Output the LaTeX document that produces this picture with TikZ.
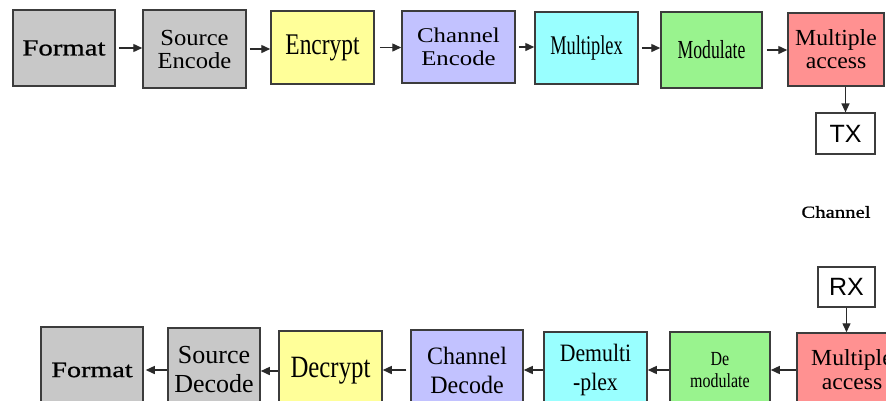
\documentclass[tikz,border=0pt]{standalone}
\usepackage{fontspec}
\setmainfont{Liberation Serif}
\newfontfamily\fntSans{Liberation Sans}
\newfontfamily\fsA[FakeStretch=1.25,FakeBold=0.9]{Liberation Serif}
\newfontfamily\fsB[FakeStretch=1.07]{Liberation Serif}
\newfontfamily\fsC[FakeStretch=0.78]{Liberation Serif}
\newfontfamily\fsD[FakeStretch=1.18]{Liberation Serif}
\newfontfamily\fsE[FakeStretch=0.68]{Liberation Serif}
\newfontfamily\fsF[FakeStretch=1.03]{Liberation Serif}
\newfontfamily\fsG[FakeStretch=1.22,FakeBold=0.9]{Liberation Serif}
\newfontfamily\fsH[FakeStretch=1.28,FakeBold=0.9]{Liberation Serif}
\newfontfamily\fsI[FakeStretch=0.80]{Liberation Serif}
\newfontfamily\fsJ[FakeStretch=0.96]{Liberation Serif}
\newfontfamily\fsK[FakeStretch=0.87]{Liberation Serif}
\usetikzlibrary{arrows.meta}
\definecolor{edgec}{HTML}{3C3C3C}
\definecolor{arrc}{HTML}{2A2A2A}
\definecolor{cgray}{HTML}{C8C8C8}
\definecolor{cyel}{HTML}{FFFF99}
\definecolor{clav}{HTML}{C2C2FF}
\definecolor{ccyan}{HTML}{99FFFF}
\definecolor{cgreen}{HTML}{99F38E}
\definecolor{cpink}{HTML}{FF9191}
\tikzset{
  blk/.style={draw=edgec, line width=1.5pt, inner sep=0pt, align=center, text=black},
  arr/.style={draw=arrc, line width=1.4pt, -{Triangle[length=9pt,width=8pt]}},
}
\newcommand{\fsz}[2]{\fontsize{#1}{#2}\selectfont}
\begin{document}
\begin{tikzpicture}[x=1pt,y=-1pt]
\useasboundingbox (0,0) rectangle (886,400);
\clip (0,0) rectangle (886,400);
\fill[white] (0,0) rectangle (886,400);
% top row
\node[blk, fill=cgray, minimum width=102pt, minimum height=76pt, font=\fsA\fsz{23}{23}] (fmt) at (64,48) {Format};
\node[blk, fill=cgray, minimum width=103pt, minimum height=78pt, font=\fsB\fsz{23}{23}] (se) at (194.5,49) {Source\\Encode};
\node[blk, fill=cyel, minimum width=103pt, minimum height=73pt, font=\fsC\fsz{30}{30}] (enc) at (322.5,47.5) {Encrypt};
\node[blk, fill=clav, minimum width=113pt, minimum height=72pt, font=\fsD\fsz{21}{23}] (ce) at (458.5,47) {Channel\\Encode};
\node[blk, fill=ccyan, minimum width=103pt, minimum height=72pt, font=\fsE\fsz{27}{27}] (mux) at (586.5,48) {Multiplex};
\node[blk, fill=cgreen, minimum width=101pt, minimum height=76pt, font=\fsE\fsz{26}{26}] (mod) at (711.5,50) {Modulate};
\node[blk, fill=cpink, minimum width=96pt, minimum height=73pt, font=\fsF\fsz{23}{23}] (ma) at (836,49.5) {Multiple\\access};
\node[blk, fill=white, line width=1.2pt, minimum width=59pt, minimum height=41pt, font=\fntSans\fsz{25}{25}] (tx) at (845.5,133.5) {TX};
\node[font=\fsG\fsz{17}{17}, inner sep=0pt] (chl) at (836,212) {Channel};
\node[blk, fill=white, line width=1.2pt, minimum width=57pt, minimum height=40pt, font=\fntSans\fsz{25}{25}] (rx) at (846.5,287) {RX};
% bottom row
\node[blk, fill=cgray, minimum width=102pt, minimum height=86pt, font=\fsH\fsz{22}{22}] (fmt2) at (92,370) {Format};
\node[blk, fill=cgray, minimum width=92pt, minimum height=84pt, font=\fsz{26}{29}] (sd) at (214,370) {Source\\Decode};
\node[blk, fill=cyel, minimum width=103pt, minimum height=80pt, font=\fsI\fsz{31}{31}] (dec) at (330.5,371) {Decrypt};
\node[blk, fill=clav, minimum width=112pt, minimum height=80pt, font=\fsJ\fsz{25}{29}] (cd) at (467,370) {Channel\\Decode};
\node[blk, fill=ccyan, minimum width=103pt, minimum height=76pt, font=\fsK\fsz{25}{29}] (dmx) at (595.5,370) {Demulti\\-plex};
\node[blk, fill=cgreen, minimum width=100pt, minimum height=76pt, font=\fsI\fsz{20}{22}] (dmod) at (720,370) {De\\modulate};
\node[blk, fill=cpink, minimum width=110pt, minimum height=74pt, font=\fsF\fsz{23}{24}] (ma2) at (852,370) {Multiple\\access};
% arrows top
\draw[arr, shorten <=3pt] (fmt.east) -- (fmt.east -| se.west);
\draw[arr, shorten <=3pt] (se.east) -- (se.east -| enc.west);
\draw[arr, shorten <=5pt] (enc.east) -- (enc.east -| ce.west);
\draw[arr, shorten <=3pt] (ce.east) -- (ce.east -| mux.west);
\draw[arr, shorten <=3pt] (mux.east) -- (mux.east -| mod.west);
\draw[arr, shorten <=4pt] (mod.east) -- (mod.east -| ma.west);
\draw[arr] (ma.south -| tx.north) -- (tx.north);
\draw[arr] (rx.south) -- (rx.south |- ma2.north);
% arrows bottom
\draw[arr] (ma2.west) -- (ma2.west -| dmod.east);
\draw[arr] (dmod.west) -- (dmod.west -| dmx.east);
\draw[arr] (dmx.west) -- (dmx.west -| cd.east);
\draw[arr, shorten <=4pt] (cd.west) -- (cd.west -| dec.east);
\draw[arr] (dec.west) -- (dec.west -| sd.east);
\draw[arr, shorten >=2pt] (sd.west) -- (sd.west -| fmt2.east);
\end{tikzpicture}
\end{document}
